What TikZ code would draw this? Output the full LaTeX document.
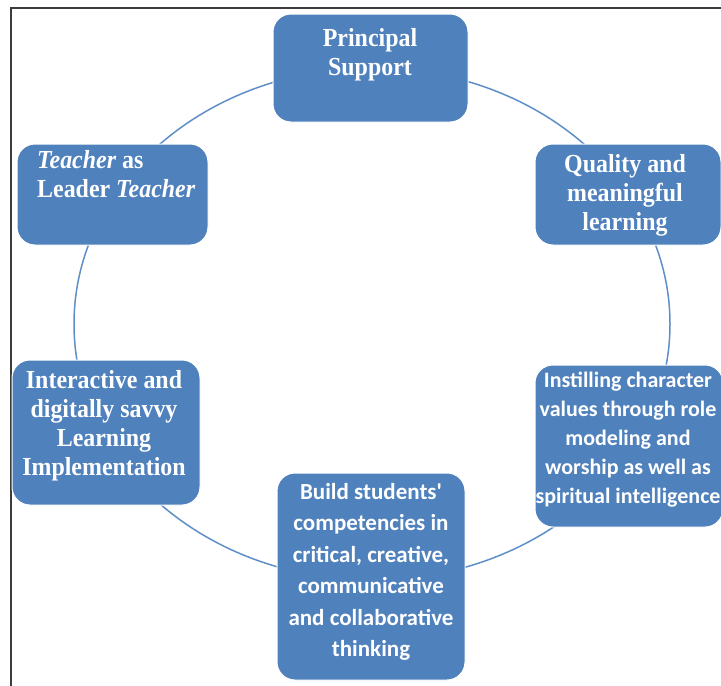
\documentclass[tikz,border=0pt]{standalone}
\usepackage{fontspec}
\setmainfont{Liberation Serif}[FakeStretch=0.92]
\newfontfamily\calib{Carlito}
\definecolor{boxblue}{RGB}{79,129,189}
\definecolor{arcblue}{RGB}{96,143,200}
\definecolor{framegray}{RGB}{60,60,60}
\begin{document}
\begin{tikzpicture}[x=1pt,y=-1pt,
  box/.style={draw=white, line width=1pt, fill=boxblue, rounded corners=18pt, inner sep=0pt},
  sertext/.style={text=white, font=\fontsize{26}{29}\selectfont\bfseries, align=center, inner sep=0pt},
  santext/.style={text=white, font=\calib\fontsize{22}{29}\selectfont\bfseries, align=center, inner sep=0pt},
  santextb/.style={text=white, font=\calib\fontsize{23}{31.5}\selectfont\bfseries, align=center, inner sep=0pt}]
\useasboundingbox (0,0) rectangle (721,686);
\fill[white] (0,0) rectangle (721,686);
\draw[framegray, line width=2pt] (10.5,690) -- (10.5,7.5) -- (725,7.5);
% cycle connector
\draw[arcblue, line width=1.5pt] (372,324) ellipse [x radius=298pt, y radius=256pt];
% boxes
\node[box, minimum width=195pt, minimum height=108pt] (b1) at (370.5,68) {};
\node[box, minimum width=186pt, minimum height=101pt] (b2) at (628,194.5) {};
\node[box, minimum width=191pt, minimum height=101pt] (b3) at (112.5,194.5) {};
\node[box, minimum width=188pt, minimum height=145pt] (b4) at (106,432.5) {};
\node[box, minimum width=188pt, minimum height=162pt] (b5) at (629,446) {};
\node[box, minimum width=188pt, minimum height=207pt] (b6) at (371,576.5) {};
% texts
\node[sertext, anchor=north] (t1) at (370,28) {Principal\\Support};
\node[sertext, anchor=north] (t2) at (625,154) {Quality and\\meaningful\\learning};
\node[sertext, anchor=north west, align=left] (t3) at (37,150) {\textit{Teacher} as\\Leader \textit{Teacher}};
\node[sertext, anchor=north] (t4) at (104,370) {Interactive and\\digitally savvy\\Learning\\Implementation};
\node[santext, anchor=north] (t5) at (628,372) {Instilling character\\values through role\\modeling and\\worship as well as\\spiritual intelligence};
\node[santextb, anchor=north] (t6) at (371,483) {Build students'\\competencies in\\critical, creative,\\communicative\\and collaborative\\thinking};
\end{tikzpicture}
\end{document}
